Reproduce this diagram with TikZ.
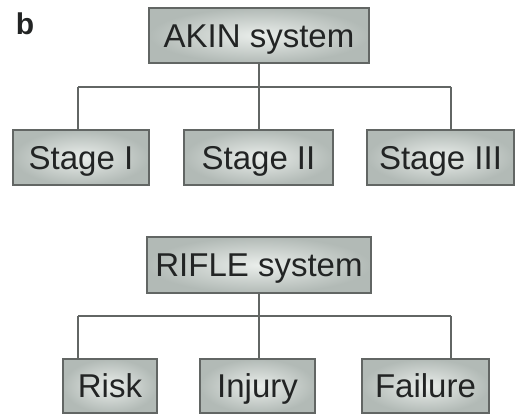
\documentclass[tikz,border=0pt]{standalone}
\usepackage{fontspec}
\setmainfont{Liberation Sans}
\usepackage{tikz}
\usetikzlibrary{calc}

\definecolor{boxin}{RGB}{234,238,235}
\definecolor{boxout}{RGB}{178,186,182}
\definecolor{boxline}{RGB}{98,102,100}
\definecolor{inkgray}{RGB}{34,36,36}

\begin{document}
\begin{tikzpicture}[x=1pt,y=-1pt,
  box/.style={draw=boxline,line width=1.6pt,inner color=boxin,outer color=boxout,
    inner sep=0pt,minimum height=55pt,text=inkgray,
    font=\fontsize{33}{36}\selectfont,text height=23.6pt,text depth=0pt},
  link/.style={draw=boxline,line width=1.6pt}]
\useasboundingbox[fill=white] (0,0) rectangle (515,414);

\node[anchor=base,font=\fontsize{30}{30}\selectfont\bfseries,text=inkgray] (panel) at (25,35) {b};

% AKIN tree
\node[box,minimum width=220pt] (akin) at (259,35.5) {AKIN system};
\node[box,minimum width=136pt] (st1) at (81,157.5) {Stage I};
\node[box,minimum width=149pt] (st2) at (258.5,157.5) {Stage II};
\node[box,minimum width=147pt] (st3) at (440.5,157.5) {Stage III};

\coordinate (akinL) at (78,87);
\coordinate (akinR) at (451,87);
\draw[link] (akin.south) -- (akin.south |- akinL);
\draw[link] (akinL) -- (akinR);
\draw[link] (akinL) -- (akinL |- st1.north);
\draw[link] (akin.south |- akinL) -- (akin.south |- st2.north);
\draw[link] (akinR) -- (akinR |- st3.north);

% RIFLE tree
\node[box,minimum width=224pt,minimum height=56pt] (rifle) at (259,265) {RIFLE system};
\node[box,minimum width=94pt,minimum height=54pt] (risk) at (110,386) {Risk};
\node[box,minimum width=115pt,minimum height=54pt] (injury) at (257.5,386) {Injury};
\node[box,minimum width=127pt,minimum height=54pt] (failure) at (425.5,386) {Failure};

\coordinate (rifleL) at (78,316);
\coordinate (rifleR) at (451,316);
\draw[link] (rifle.south) -- (rifle.south |- rifleL);
\draw[link] (rifleL) -- (rifleR);
\draw[link] (rifleL) -- (rifleL |- risk.north);
\draw[link] (rifle.south |- rifleL) -- (rifle.south |- injury.north);
\draw[link] (rifleR) -- (rifleR |- failure.north);

\end{tikzpicture}
\end{document}
